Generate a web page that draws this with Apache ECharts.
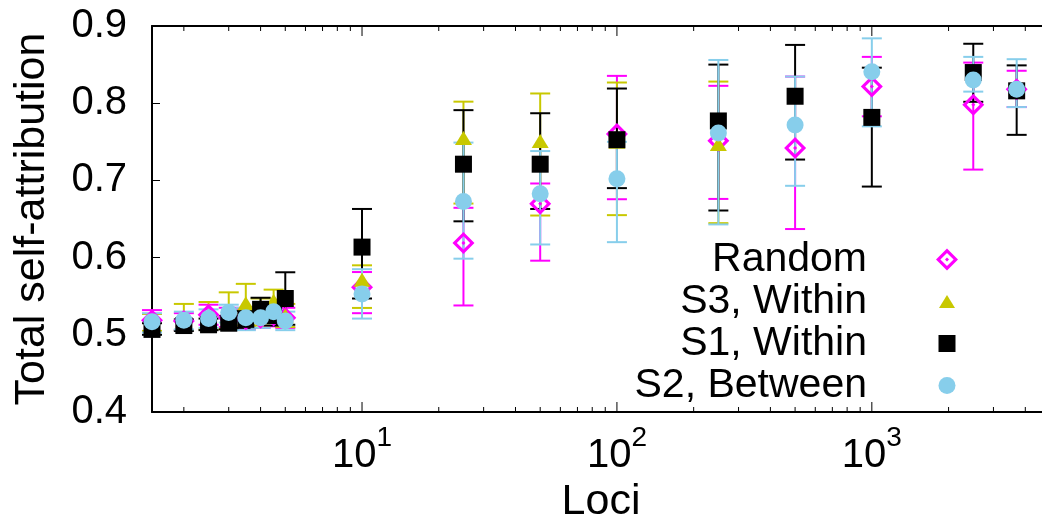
<!DOCTYPE html>
<html><head><meta charset="utf-8">
<script src="https://cdn.jsdelivr.net/npm/echarts@6/dist/echarts.min.js"></script>
<style>html,body{margin:0;padding:0;background:#fff}#c{width:1042px;height:520px}</style>
</head><body><div id="c"></div>
<script>
// ---- data ----
const loci   = [1.5, 2, 2.5, 3, 3.5, 4, 4.5, 5, 10, 25, 50, 100, 250, 500, 1000, 2500, 3700];
const lociS3 = [1.5, 2, 2.5, 3, 3.5, 4, 4.5, 5, 10, 25, 50, 100, 250];

const randomMean = [0.519, 0.518, 0.526, 0.522, 0.520, 0.522, 0.525, 0.522, 0.5615, 0.619, 0.6696, 0.760, 0.7514, 0.742, 0.8216, 0.798, 0.818];
const randomLow  = [0.505, 0.506, 0.513, 0.510, 0.507, 0.509, 0.511, 0.509, 0.528, 0.538, 0.596, 0.6756, 0.676, 0.637, 0.783, 0.714, 0.795];
const randomHigh = [0.532, 0.528, 0.539, 0.535, 0.534, 0.536, 0.539, 0.535, 0.5813, 0.6645, 0.696, 0.8354, 0.8225, 0.8345, 0.860, 0.8526, 0.842];

const s3Mean = [0.515, 0.519, 0.523, 0.530, 0.541, 0.530, 0.544, 0.525, 0.5714, 0.755, 0.751, 0.750, 0.747];
const s3Low  = [0.505, 0.506, 0.507, 0.508, 0.512, 0.512, 0.530, 0.510, 0.5348, 0.670, 0.6545, 0.655, 0.6446];
const s3High = [0.527, 0.540, 0.5425, 0.555, 0.566, 0.547, 0.5585, 0.540, 0.590, 0.802, 0.8126, 0.8268, 0.828];

const s1Mean = [0.507, 0.512, 0.513, 0.515, 0.520, 0.533, 0.525, 0.547, 0.6136, 0.721, 0.721, 0.7527, 0.777, 0.809, 0.7816, 0.8397, 0.816];
const s1Low  = [0.500, 0.505, 0.506, 0.507, 0.509, 0.518, 0.512, 0.513, 0.547, 0.647, 0.663, 0.690, 0.661, 0.727, 0.692, 0.8018, 0.759];
const s1High = [0.515, 0.520, 0.521, 0.524, 0.531, 0.548, 0.540, 0.581, 0.663, 0.791, 0.787, 0.819, 0.850, 0.8755, 0.846, 0.877, 0.849];

const s2Mean = [0.517, 0.519, 0.521, 0.529, 0.522, 0.522, 0.530, 0.518, 0.553, 0.6726, 0.6826, 0.702, 0.7613, 0.7717, 0.8406, 0.830, 0.818];
const s2Low  = [0.503, 0.507, 0.509, 0.516, 0.506, 0.509, 0.516, 0.506, 0.521, 0.5986, 0.617, 0.620, 0.643, 0.693, 0.770, 0.815, 0.795];
const s2High = [0.528, 0.530, 0.533, 0.539, 0.535, 0.535, 0.541, 0.530, 0.585, 0.749, 0.738, 0.750, 0.856, 0.8345, 0.884, 0.860, 0.857];

const seriesNames = ['Random', 'S3, Within', 'S1, Within', 'S2, Between'];
const yTicks = [0.4, 0.5, 0.6, 0.7, 0.8, 0.9];
const xMajorTicks = [10, 100, 1000];
const xMinorTicks = [2, 3, 4, 5, 6, 7, 8, 9, 20, 30, 40, 50, 60, 70, 80, 90, 200, 300, 400, 500, 600, 700, 800, 900, 2000, 3000, 4000, 5000];

// ---- styling ----
const FONT = 'Liberation Sans, Arial, Helvetica, sans-serif';
const COLORS = ['#ff00ff', '#c8c800', '#000000', '#87ceeb'];
const DIAMOND = 'path://M0,-11L11,0L0,11L-11,0Z M0,-6.6L-6.6,0L0,6.6L6.6,0Z M0,-2L2,0L0,2L-2,0Z';
const PAD = 'M-11,-11M11,11';
const ICONS = [
  DIAMOND,
  'path://' + PAD + 'M-8,6.5L0,-6.5L8,6.5Z',
  'path://' + PAD + 'M-8.5,-8.5L8.5,-8.5L8.5,8.5L-8.5,8.5Z',
  'path://' + PAD + 'M-8.5,0A8.5,8.5,0,1,1,8.5,0A8.5,8.5,0,1,1,-8.5,0Z'
];
const SYMBOLS = [DIAMOND, 'triangle', 'rect', 'circle'];
const SIZES = [22, [17, 14], 17, 17];

function errSeries(name, xs, lo, hi, color) {
  return {
    type: 'custom', name: name, silent: true, clip: false,
    data: xs.map((x, i) => [x, lo[i], hi[i]]),
    encode: { x: 0, y: [1, 2] },
    renderItem: function (params, api) {
      const a = api.coord([api.value(0), api.value(1)]);
      const b = api.coord([api.value(0), api.value(2)]);
      const h = 10, st = { stroke: color, lineWidth: 2 };
      return { type: 'group', children: [
        { type: 'line', shape: { x1: a[0], y1: a[1], x2: b[0], y2: b[1] }, style: st },
        { type: 'line', shape: { x1: a[0] - h, y1: a[1], x2: a[0] + h, y2: a[1] }, style: st },
        { type: 'line', shape: { x1: b[0] - h, y1: b[1], x2: b[0] + h, y2: b[1] }, style: st }
      ]};
    }
  };
}
function ptSeries(idx, xs, ys) {
  return {
    type: 'scatter', name: seriesNames[idx], clip: false,
    data: xs.map((x, i) => [x, ys[i]]),
    symbol: SYMBOLS[idx], symbolSize: SIZES[idx],
    itemStyle: { color: COLORS[idx], opacity: 1 },
    emphasis: { disabled: true }
  };
}
function tickSeries(vals, len) {
  return {
    type: 'custom', silent: true, clip: false,
    data: vals.map(v => [v, 0.5]),
    encode: { x: 0, y: 1 },
    renderItem: function (params, api) {
      const cs = params.coordSys;
      const x = api.coord([api.value(0), 0.5])[0];
      const st = { stroke: '#000', lineWidth: 1 };
      return { type: 'group', children: [
        { type: 'line', shape: { x1: x, y1: cs.y + cs.height, x2: x, y2: cs.y + cs.height - len }, style: st },
        { type: 'line', shape: { x1: x, y1: cs.y, x2: x, y2: cs.y + len }, style: st }
      ]};
    }
  };
}
function isPow10(v) { const l = Math.log10(v); return Math.abs(l - Math.round(l)) < 1e-6 && xMajorTicks.some(t => Math.abs(t - v) < 1e-6 * t); }

const yAxisBase = {
  type: 'value', min: yTicks[0], max: yTicks[yTicks.length - 1], interval: 0.1,
  axisLine: { show: true, lineStyle: { color: '#000', width: 2 } },
  axisTick: { show: true, inside: true, length: 8, lineStyle: { color: '#000', width: 1 } },
  splitLine: { show: false }
};

const chart = echarts.init(document.getElementById('c'), null, { renderer: 'canvas' });
chart.setOption({
  animation: false,
  backgroundColor: '#fff',
  grid: { left: 152, right: -8, top: 26, bottom: 108, containLabel: false, outerBoundsMode: 'none' },
  xAxis: [{
    type: 'log', logBase: 10, min: 1.5, max: 5000, position: 'bottom',
    axisLine: { show: true, lineStyle: { color: '#000', width: 2 } },
    axisTick: { show: false }, splitLine: { show: false }, minorTick: { show: false },
    axisLabel: {
      interval: 0, margin: 12, showMinLabel: true, showMaxLabel: true,
      formatter: v => isPow10(v) ? '{b|10}{s|' + Math.round(Math.log10(v)) + '}' : '',
      rich: {
        b: { fontSize: 40, fontFamily: FONT, color: '#000', lineHeight: 40, padding: [24, 0, 0, 0] },
        s: { fontSize: 28, fontFamily: FONT, color: '#000', lineHeight: 28, verticalAlign: 'top' }
      }
    },
    name: 'Loci', nameLocation: 'middle', nameGap: 58,
    nameTextStyle: { fontSize: 43, fontFamily: FONT, color: '#000', lineHeight: 43 }
  }, {
    type: 'log', logBase: 10, min: 1.5, max: 5000, position: 'top',
    axisLine: { show: true, lineStyle: { color: '#000', width: 2 } },
    axisTick: { show: false }, axisLabel: { show: false }, splitLine: { show: false }
  }],
  yAxis: [Object.assign({}, yAxisBase, {
    position: 'left',
    axisLabel: { margin: 25, fontSize: 40, fontFamily: FONT, color: '#000', formatter: v => v.toFixed(1) },
    name: 'Total self-attribution', nameLocation: 'middle', nameGap: 98,
    nameTextStyle: { fontSize: 43, fontFamily: FONT, color: '#000', lineHeight: 43 }
  }), Object.assign({}, yAxisBase, { position: 'right', axisLabel: { show: false } })],
  legend: {
    orient: 'vertical', align: 'right', right: 79, top: 234,
    itemWidth: 150, itemHeight: 22, itemGap: 1, selectedMode: false,
    textStyle: { fontSize: 41, fontFamily: FONT, color: '#000', lineHeight: 40 },
    data: seriesNames.map((n, i) => ({ name: n, icon: ICONS[i] }))
  },
  series: [
    tickSeries(xMajorTicks, 10),
    tickSeries(xMinorTicks, 5),
    errSeries('Random err', loci, randomLow, randomHigh, COLORS[0]),
    ptSeries(0, loci, randomMean),
    errSeries('S3 err', lociS3, s3Low, s3High, COLORS[1]),
    ptSeries(1, lociS3, s3Mean),
    errSeries('S1 err', loci, s1Low, s1High, COLORS[2]),
    ptSeries(2, loci, s1Mean),
    errSeries('S2 err', loci, s2Low, s2High, COLORS[3]),
    ptSeries(3, loci, s2Mean)
  ]
});
</script></body></html>
